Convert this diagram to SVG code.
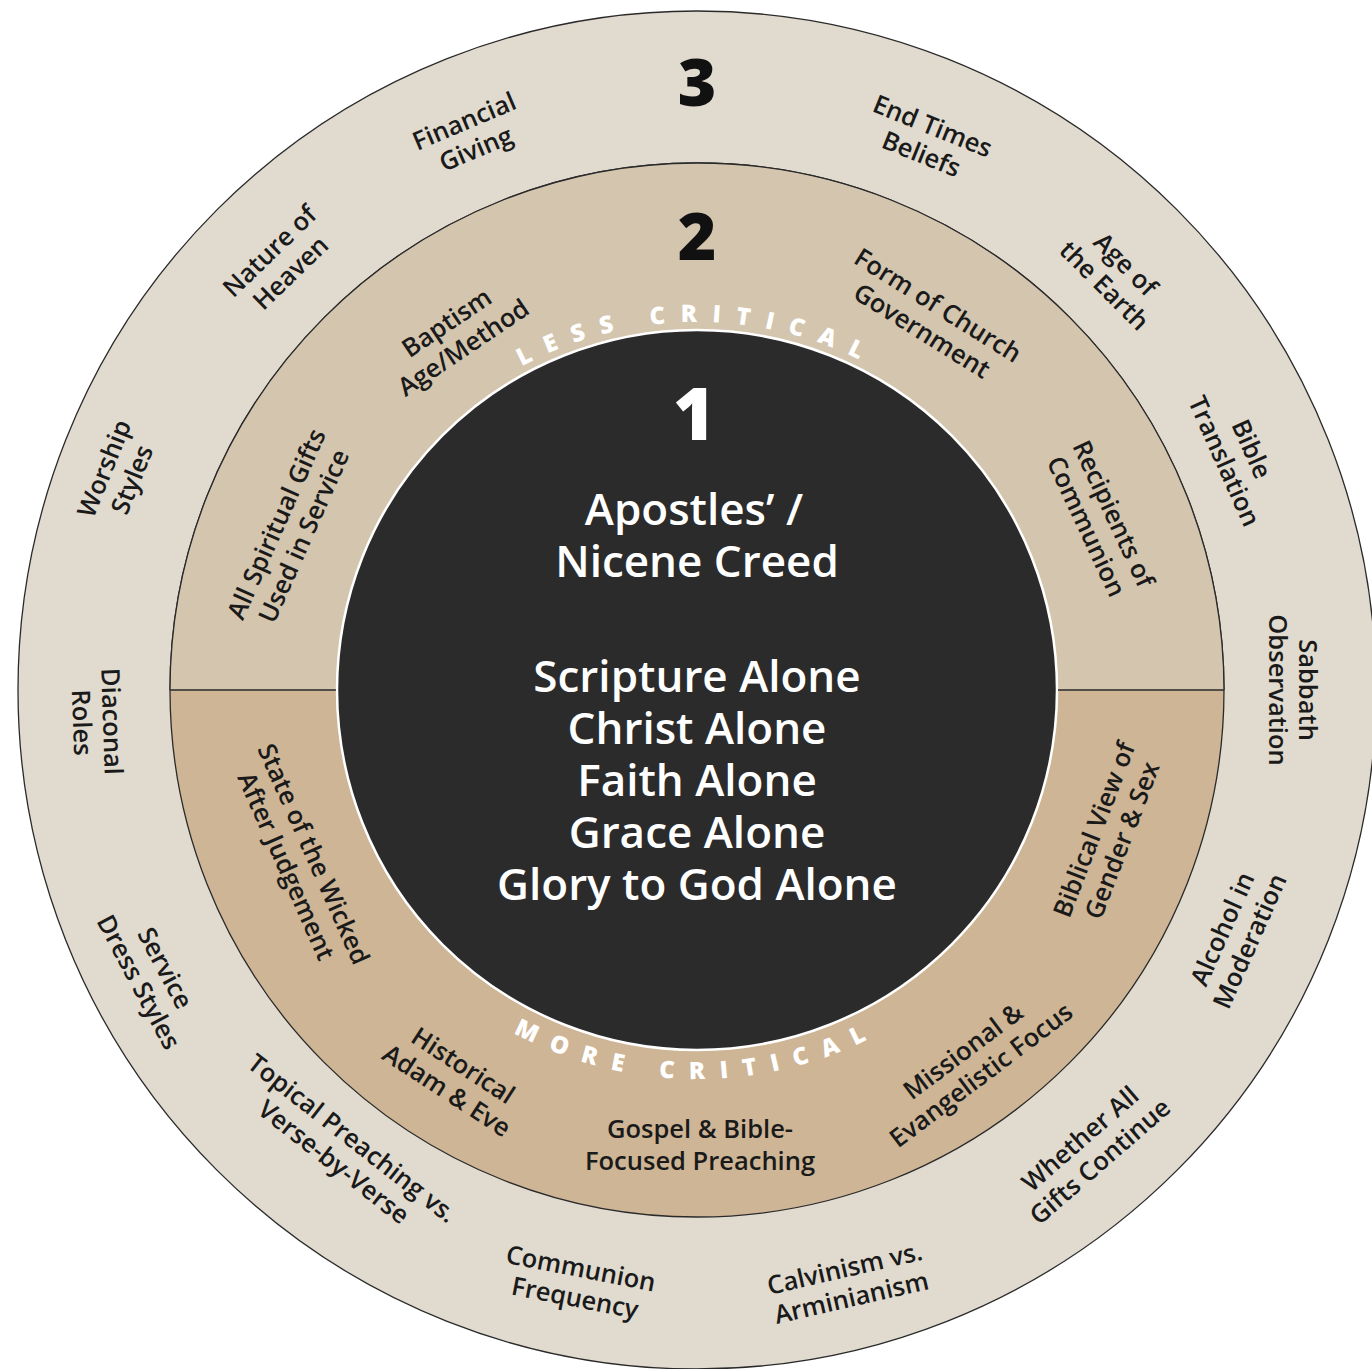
<svg xmlns="http://www.w3.org/2000/svg" width="1372" height="1369" viewBox="0 0 1372 1369">
  <defs>
    <style>
      .lbl { font-family: "Open Sans", "Liberation Sans", sans-serif; font-size: 25.5px; font-weight: 600; fill: #1a1a1a; text-anchor: middle; }
      .num { font-family: "Open Sans", "Liberation Sans", sans-serif; font-size: 66px; font-weight: 800; fill: #111; text-anchor: middle; }
      .core { font-family: "Open Sans", "Liberation Sans", sans-serif; font-size: 44px; font-weight: 600; fill: #ffffff; text-anchor: middle; }
      .arc { font-family: "Open Sans", "Liberation Sans", sans-serif; font-size: 24px; font-weight: 800; fill: #ffffff; letter-spacing: 15px; }
      .edge { stroke: #2a2a2a; stroke-width: 1.3; }
    </style>
    <path id="arcTop" d="M 329 690 A 368 368 0 0 1 1065 690"/>
    <path id="arcBottom" d="M 308 690 A 389 389 0 0 0 1086 690"/>
  </defs>

  <g id="rings">
    <circle id="ring3" cx="697" cy="690" r="679" fill="#e1dbcf" class="edge"/>
    <circle id="ring2-lower" cx="697" cy="690" r="527" fill="#cdb595" class="edge"/>
    <path id="ring2-upper" d="M 170 690 A 527 527 0 0 1 1224 690 Z" fill="#d4c5ae"/>
    <path d="M 170 690 A 527 527 0 0 1 1224 690" fill="none" class="edge"/>
    <circle id="ring1" cx="697" cy="690" r="360" fill="#2b2b2b" stroke="#ffffff" stroke-width="2.5"/>
  </g>

  <g id="dividers">
    <line x1="170" y1="690" x2="336" y2="690" class="edge"/>
    <line x1="1058" y1="690" x2="1224" y2="690" class="edge"/>
  </g>

  <g id="ring-numbers">
    <text class="num" x="697" y="106">3</text>
    <text class="num" x="697" y="260">2</text>
    <text class="num" x="694" y="440" style="fill:#fff;font-size:72px">1</text>
  </g>

  <g id="arc-labels">
    <text class="arc"><textPath href="#arcTop" startOffset="50%" text-anchor="middle">LESS CRITICAL</textPath></text>
    <text class="arc"><textPath href="#arcBottom" startOffset="50%" text-anchor="middle">MORE CRITICAL</textPath></text>
  </g>

  <g id="core">
    <text class="core" x="694" y="525">Apostles’ /</text>
    <text class="core" x="697" y="577">Nicene Creed</text>
    <text class="core" x="697" y="692">Scripture Alone</text>
    <text class="core" x="697" y="744">Christ Alone</text>
    <text class="core" x="697" y="796">Faith Alone</text>
    <text class="core" x="697" y="848">Grace Alone</text>
    <text class="core" x="697" y="900">Glory to God Alone</text>
  </g>

  <!-- Ring 2 labels -->
  <g id="baptism"><text class="lbl" transform="translate(455,335) rotate(-34)"><tspan x="0" y="-6">Baptism</tspan><tspan x="0" y="24">Age/Method</tspan></text></g>
  <g id="form-of-church"><text class="lbl" transform="translate(930,318) rotate(32)"><tspan x="0" y="-6">Form of Church</tspan><tspan x="0" y="24">Government</tspan></text></g>
  <g id="spiritual-gifts"><text class="lbl" transform="translate(290,530) rotate(-66)"><tspan x="0" y="-6">All Spiritual Gifts</tspan><tspan x="0" y="24">Used in Service</tspan></text></g>
  <g id="recipients"><text class="lbl" transform="translate(1100,520) rotate(65)"><tspan x="0" y="-6">Recipients of</tspan><tspan x="0" y="24">Communion</tspan></text></g>
  <g id="state-wicked"><text class="lbl" transform="translate(300,860) rotate(66)"><tspan x="0" y="-6">State of the Wicked</tspan><tspan x="0" y="24">After Judgement</tspan></text></g>
  <g id="biblical-view"><text class="lbl" transform="translate(1108,835) rotate(-69)"><tspan x="0" y="-6">Biblical View of</tspan><tspan x="0" y="24">Gender &amp; Sex</tspan></text></g>
  <g id="historical-adam"><text class="lbl" transform="translate(455,1078) rotate(33)"><tspan x="0" y="-6">Historical</tspan><tspan x="0" y="24">Adam &amp; Eve</tspan></text></g>
  <g id="missional"><text class="lbl" transform="translate(972,1063) rotate(-37)"><tspan x="0" y="-6">Missional &amp;</tspan><tspan x="0" y="24">Evangelistic Focus</tspan></text></g>
  <g id="gospel-preaching"><text class="lbl" transform="translate(700,1145)"><tspan x="0" y="-7">Gospel &amp; Bible-</tspan><tspan x="0" y="25">Focused Preaching</tspan></text></g>

  <!-- Ring 3 labels -->
  <g id="financial-giving"><text class="lbl" transform="translate(470,135) rotate(-23)"><tspan x="0" y="-6">Financial</tspan><tspan x="0" y="24">Giving</tspan></text></g>
  <g id="end-times"><text class="lbl" transform="translate(927,140) rotate(22)"><tspan x="0" y="-6">End Times</tspan><tspan x="0" y="24">Beliefs</tspan></text></g>
  <g id="nature-heaven"><text class="lbl" transform="translate(280,262) rotate(-44)"><tspan x="0" y="-6">Nature of</tspan><tspan x="0" y="24">Heaven</tspan></text></g>
  <g id="age-earth"><text class="lbl" transform="translate(1115,275) rotate(45)"><tspan x="0" y="-6">Age of</tspan><tspan x="0" y="24">the Earth</tspan></text></g>
  <g id="worship-styles"><text class="lbl" transform="translate(118,474) rotate(-68)"><tspan x="0" y="-6">Worship</tspan><tspan x="0" y="24">Styles</tspan></text></g>
  <g id="bible-translation"><text class="lbl" transform="translate(1238,455) rotate(66)"><tspan x="0" y="-6">Bible</tspan><tspan x="0" y="24">Translation</tspan></text></g>
  <g id="diaconal-roles"><text class="lbl" transform="translate(97,722) rotate(88)"><tspan x="0" y="-6">Diaconal</tspan><tspan x="0" y="24">Roles</tspan></text></g>
  <g id="sabbath"><text class="lbl" transform="translate(1293,690) rotate(90)"><tspan x="0" y="-6">Sabbath</tspan><tspan x="0" y="24">Observation</tspan></text></g>
  <g id="service-dress"><text class="lbl" transform="translate(152,975) rotate(62)"><tspan x="0" y="-6">Service</tspan><tspan x="0" y="24">Dress Styles</tspan></text></g>
  <g id="alcohol"><text class="lbl" transform="translate(1236,935) rotate(-66)"><tspan x="0" y="-6">Alcohol in</tspan><tspan x="0" y="24">Moderation</tspan></text></g>
  <g id="topical-preaching"><text class="lbl" transform="translate(343,1150) rotate(38)"><tspan x="0" y="-6">Topical Preaching vs.</tspan><tspan x="0" y="24">Verse-by-Verse</tspan></text></g>
  <g id="gifts-continue"><text class="lbl" transform="translate(1090,1150) rotate(-41)"><tspan x="0" y="-6">Whether All</tspan><tspan x="0" y="24">Gifts Continue</tspan></text></g>
  <g id="communion-frequency"><text class="lbl" transform="translate(578,1283) rotate(11)"><tspan x="0" y="-6">Communion</tspan><tspan x="0" y="24">Frequency</tspan></text></g>
  <g id="calvinism"><text class="lbl" transform="translate(848,1283) rotate(-13)"><tspan x="0" y="-6">Calvinism vs.</tspan><tspan x="0" y="24">Arminianism</tspan></text></g>
</svg>
